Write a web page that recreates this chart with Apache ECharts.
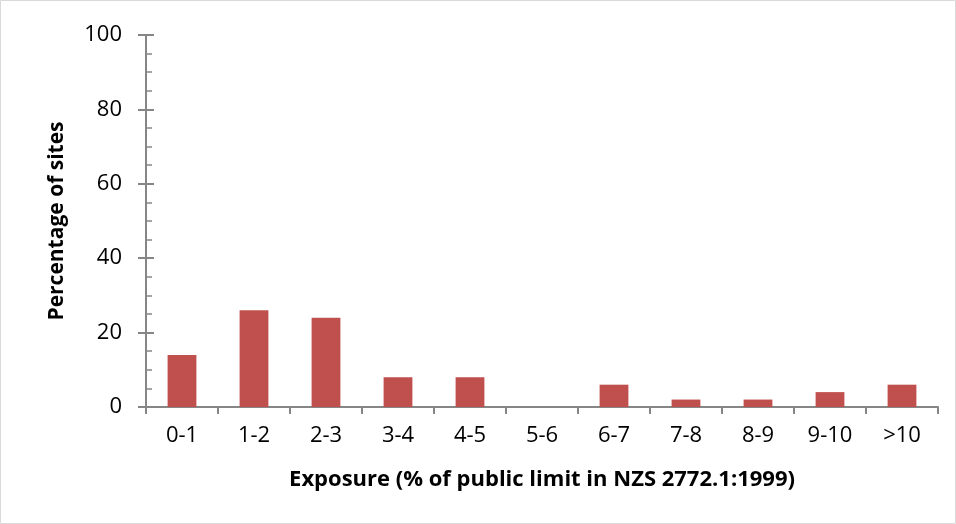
<!DOCTYPE html>
<html lang="en">
<head>
    <meta charset="UTF-8">
    <title>Exposure</title>
    <script type="text/javascript" src="https://cdn.jsdelivr.net/npm/echarts@6/dist/echarts.min.js"></script>
    <style>
        body { margin: 0; background: #fff; overflow: hidden; }
    </style>
</head>
<body>
    <div style="width: 956px; height: 524px" id="container"></div>
</body>
<script>
    var myChart = echarts.init(document.getElementById('container'));

    let categories = ['0-1', '1-2', '2-3', '3-4', '4-5', '5-6', '6-7', '7-8', '8-9', '9-10', '>10'];
    let sites = [14, 26, 24, 8, 8, 0, 6, 2, 2, 4, 6];
    let axisColor = '#868686';
    let font = 'Open Sans';

    var option = {
        backgroundColor: '#fff',
        animation: false,
        graphic: [{
            type: 'rect',
            shape: { x: 0.5, y: 0.5, width: 955, height: 523 },
            style: { fill: 'none', stroke: '#d9d9d9', lineWidth: 1 }
        }],
        grid: { left: 146, right: 18, top: 35, bottom: 117 },
        xAxis: {
            type: 'category',
            data: categories,
            name: 'Exposure (% of public limit in NZS 2772.1:1999)',
            nameLocation: 'middle',
            nameGap: 62,
            nameTextStyle: { fontFamily: font, fontSize: 22, fontWeight: 'bold', color: '#000' },
            axisLine: { lineStyle: { color: axisColor, width: 2 } },
            axisTick: { show: true, length: 7, lineStyle: { color: axisColor, width: 2 } },
            axisLabel: { fontFamily: font, fontSize: 22, color: '#000', margin: 18 }
        },
        yAxis: [{
            type: 'value',
            min: 0,
            max: 100,
            interval: 20,
            name: 'Percentage of sites',
            nameLocation: 'middle',
            nameGap: 78,
            nameTextStyle: { fontFamily: font, fontSize: 21, fontWeight: 'bold', color: '#000' },
            splitLine: { show: false },
            axisLine: { show: true, lineStyle: { color: axisColor, width: 2 } },
            axisTick: { show: true, length: 8, lineStyle: { color: axisColor, width: 2 } },
            axisLabel: { fontFamily: font, fontSize: 22, color: '#000', margin: 24 }
        }, {
            // inside half of the crossing major ticks + minor ticks
            type: 'value',
            position: 'left',
            min: 0,
            max: 100,
            interval: 20,
            splitLine: { show: false },
            axisLine: { show: false },
            axisLabel: { show: false },
            axisTick: { show: true, inside: true, length: 8, lineStyle: { color: axisColor, width: 2 } },
            minorTick: { show: true, splitNumber: 4, length: 6, lineStyle: { color: axisColor, width: 1.5 } }
        }],
        series: [{
            type: 'bar',
            data: sites,
            barWidth: '40%',
            itemStyle: { color: '#C0504D' }
        }]
    };
    myChart.setOption(option);
</script>
</html>
